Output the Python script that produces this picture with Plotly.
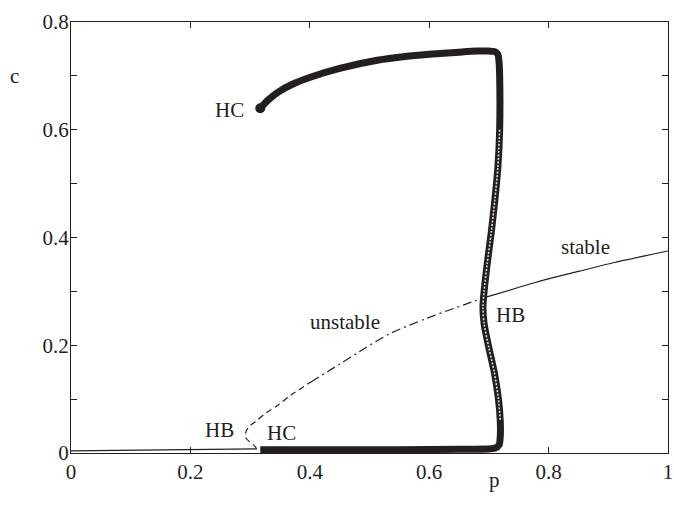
import plotly.graph_objects as go

# ---- data ----
# steady states: lower stable branch
low_p = [0.0, 0.05, 0.10, 0.15, 0.20, 0.25, 0.30, 0.311]
low_c = [0.004, 0.0045, 0.005, 0.0055, 0.006, 0.0068, 0.0074, 0.0076]
# unstable branch near the fold (dashed)
uns1_p = [0.311, 0.306, 0.298, 0.293, 0.292, 0.294, 0.299, 0.309, 0.326, 0.347, 0.369, 0.402]
uns1_c = [0.0076, 0.015, 0.022, 0.028, 0.033, 0.042, 0.050, 0.058, 0.074, 0.089, 0.108, 0.132]
# unstable branch up to the Hopf point (dash-dot)
uns2_p = [0.402, 0.45, 0.493, 0.535, 0.596, 0.658, 0.691]
uns2_c = [0.132, 0.165, 0.195, 0.222, 0.250, 0.275, 0.288]
# upper stable branch
up_p = [0.691, 0.74, 0.779, 0.85, 0.912, 1.0]
up_c = [0.288, 0.304, 0.317, 0.337, 0.354, 0.375]

# periodic orbit branch (max / min amplitude)
top_p = [0.317, 0.33, 0.347, 0.37, 0.402, 0.45, 0.513, 0.56, 0.60, 0.65, 0.68, 0.70, 0.71, 0.715, 0.717, 0.718]
top_c = [0.640, 0.655, 0.670, 0.684, 0.698, 0.714, 0.729, 0.736, 0.740, 0.744, 0.746, 0.746, 0.745, 0.740, 0.725, 0.700]
vert_p = [0.718, 0.718, 0.715, 0.710, 0.704, 0.697, 0.692, 0.690, 0.692, 0.700, 0.709, 0.716, 0.719, 0.719]
vert_c = [0.700, 0.600, 0.530, 0.470, 0.410, 0.350, 0.300, 0.270, 0.240, 0.195, 0.150, 0.100, 0.060, 0.030]
bot_p = [0.719, 0.717, 0.71, 0.65, 0.55, 0.45, 0.35, 0.317]
bot_c = [0.030, 0.015, 0.009, 0.007, 0.006, 0.006, 0.006, 0.006]
hc_p = [0.317]
hc_c = [0.640]

# labels
lab_text = ["HC", "HB", "HC", "unstable", "HB", "stable"]
lab_p = [0.265, 0.249, 0.352, 0.459, 0.737, 0.862]
lab_c = [0.637, 0.043, 0.037, 0.243, 0.256, 0.382]

x_tick_vals = [0, 0.2, 0.4, 0.6, 0.8, 1.0]
x_tick_text = ["0", "0.2", "0.4", "0.6", "0.8", "1"]
y_tick_vals = [0, 0.1, 0.2, 0.3, 0.4, 0.5, 0.6, 0.7, 0.8]
y_tick_text = ["0", "", "0.2", "", "0.4", "", "0.6", "", "0.8"]

INK = "#231f20"
FONT = "Liberation Serif"

fig = go.Figure()
fig.add_trace(go.Scatter(x=low_p, y=low_c, mode="lines", line=dict(color=INK, width=1.2)))
fig.add_trace(go.Scatter(x=uns1_p, y=uns1_c, mode="lines",
                         line=dict(color=INK, width=1.2, dash="6px,4px", shape="spline", smoothing=0.8)))
fig.add_trace(go.Scatter(x=uns2_p, y=uns2_c, mode="lines",
                         line=dict(color=INK, width=1.2, dash="9px,4px,2px,4px", shape="spline", smoothing=0.8)))
fig.add_trace(go.Scatter(x=up_p, y=up_c, mode="lines",
                         line=dict(color=INK, width=1.2, shape="spline", smoothing=0.8)))

orbit_p = top_p + vert_p[1:] + bot_p[1:]
orbit_c = top_c + vert_c[1:] + bot_c[1:]
fig.add_trace(go.Scatter(x=orbit_p, y=orbit_c, mode="lines",
                         line=dict(color=INK, width=7, shape="spline", smoothing=0.8)))
fig.add_trace(go.Scatter(x=vert_p[1:-1], y=vert_c[1:-1], mode="lines",
                         line=dict(color="#d8d8d8", width=1.6, dash="2px,1.5px", shape="spline", smoothing=0.8)))
fig.add_trace(go.Scatter(x=hc_p, y=hc_c, mode="markers", marker=dict(color=INK, size=10)))

for t, px, py in zip(lab_text, lab_p, lab_c):
    fig.add_annotation(x=px, y=py, xref="x", yref="y", text=t, showarrow=False,
                       font=dict(family=FONT, size=21, color=INK))

fig.add_annotation(x=0.71, y=-0.095, xref="x", yref="paper", text="p", showarrow=False,
                   font=dict(family=FONT, size=21, color=INK))
fig.add_annotation(x=-0.105, y=0.70, xref="paper", yref="y", text="c", showarrow=False,
                   font=dict(family=FONT, size=21, color=INK))

axis_common = dict(showgrid=False, zeroline=False, showline=True, linecolor=INK, linewidth=1.3,
                   mirror="ticks", ticks="inside", ticklen=6, tickwidth=1.1, tickcolor=INK,
                   tickfont=dict(family=FONT, size=21, color=INK), automargin=False,
                   ticklabeloverflow="allow")
fig.update_xaxes(range=[0, 1], tickvals=x_tick_vals, ticktext=x_tick_text, **axis_common)
fig.update_yaxes(range=[0, 0.8], tickvals=y_tick_vals, ticktext=y_tick_text,
                 ticklabelstandoff=-3, **axis_common)

fig.update_layout(width=674, height=507, showlegend=False,
                  margin=dict(l=71, r=6, t=22, b=54),
                  plot_bgcolor="white", paper_bgcolor="white")

fig.write_html("out.html", config={"displayModeBar": False},
               post_script="document.body.style.margin='0px';")
